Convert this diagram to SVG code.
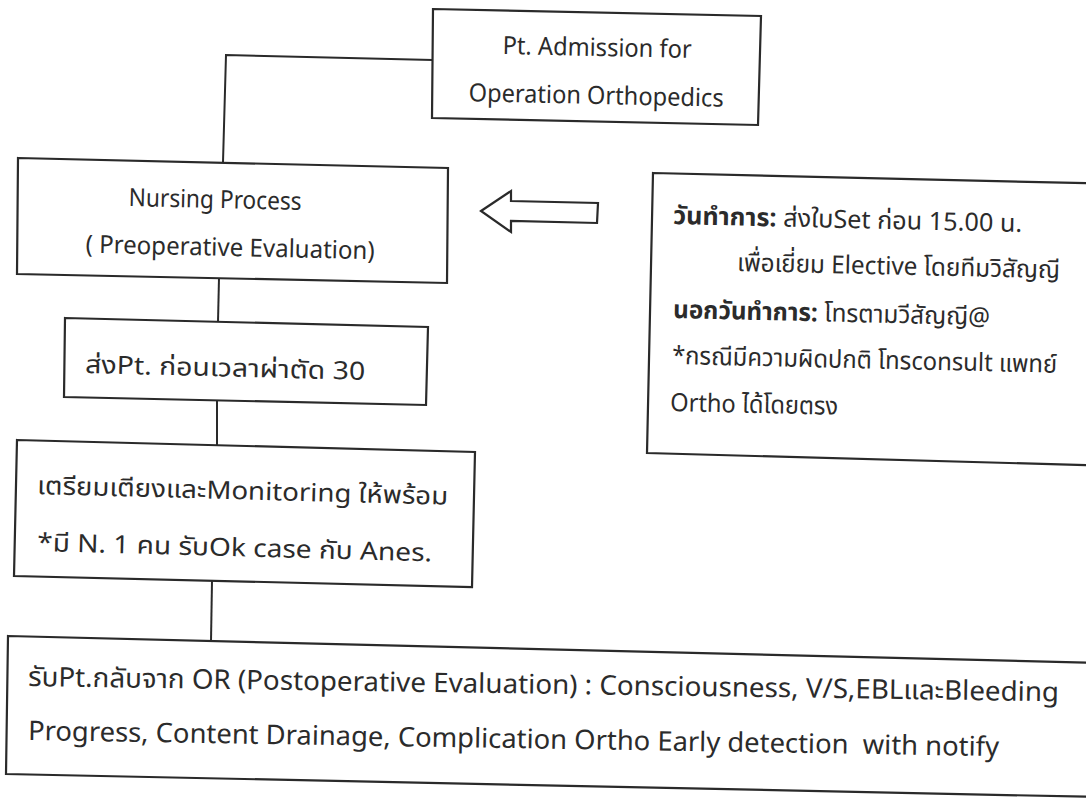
<svg xmlns="http://www.w3.org/2000/svg" width="1086" height="798" viewBox="0 0 1086 798">
<style>
.box{fill:#fff;stroke:#2a2a2a;stroke-width:2.2;stroke-linejoin:miter}
.con{fill:none;stroke:#2a2a2a;stroke-width:2}
.t{font-family:"Noto Sans","Noto Sans Thai","DejaVu Sans",sans-serif;font-size:25px;fill:#2b2b2b}
.tb{font-size:27px}
.m{text-anchor:middle}
.b{font-weight:bold}
</style>
<rect width="1086" height="798" fill="#fff"/>
<g id="connectors">
<path class="con" d="M433,60 L226,55 L223,162"/>
<path class="con" d="M219,278 L218,322"/>
<path class="con" d="M217,400 L217,445"/>
<path class="con" d="M212,581 L211,641"/>
<polygon id="arrow" class="box" points="481,211 511,191 511,201 598,203 597,223 511,221 511,232"/>
</g>
<g id="admission">
<polygon class="box" points="433,9 761,16 758,125 432,118"/>
<text class="t m" x="597" y="56" textLength="189" lengthAdjust="spacingAndGlyphs" transform="rotate(1.2 597 56)">Pt. Admission for</text>
<text class="t m" x="596" y="104" textLength="255" lengthAdjust="spacingAndGlyphs" transform="rotate(1.2 596 104)">Operation Orthopedics</text>
</g>
<g id="nursing">
<polygon class="box" points="18,158 448,168 447,283 17,274"/>
<text class="t m" x="215" y="208" textLength="173" lengthAdjust="spacingAndGlyphs" transform="rotate(1.3 215 208)">Nursing Process</text>
<text class="t m" x="230" y="256" textLength="289" lengthAdjust="spacingAndGlyphs" transform="rotate(1.3 230 256)">( Preoperative Evaluation)</text>
</g>
<g id="send">
<polygon class="box" points="65,318 428,327 426,405 64,397"/>
<text class="t" x="85" y="373" textLength="280" lengthAdjust="spacingAndGlyphs" transform="rotate(1.4 85 373)">ส่งPt. ก่อนเวลาผ่าตัด 30</text>
</g>
<g id="prepare">
<polygon class="box" points="17,440 475,452 472,587 14,576"/>
<text class="t" x="37" y="494" textLength="411" lengthAdjust="spacingAndGlyphs" transform="rotate(1.5 37 494)">เตรียมเตียงและMonitoring ให้พร้อม</text>
<text class="t" x="37" y="551" textLength="395" lengthAdjust="spacingAndGlyphs" transform="rotate(1.5 37 551)">*มี N. 1 คน รับOk case กับ Anes.</text>
</g>
<g id="note">
<polygon class="box" points="653,173 1100,183.5 1100,465.5 647,453"/>
<text class="t" x="673" y="224" textLength="349" lengthAdjust="spacingAndGlyphs" transform="rotate(1.3 673 224)"><tspan class="b">วันทำการ:</tspan> ส่งใบSet ก่อน 15.00 น.</text>
<text class="t" x="737" y="271" textLength="323" lengthAdjust="spacingAndGlyphs" transform="rotate(1.3 737 271)">เพื่อเยี่ยม Elective โดยทีมวิสัญญี</text>
<text class="t" x="673" y="318" textLength="317" lengthAdjust="spacingAndGlyphs" transform="rotate(1.3 673 318)"><tspan class="b">นอกวันทำการ:</tspan> โทรตามวีสัญญี@</text>
<text class="t" x="672" y="364" textLength="385" lengthAdjust="spacingAndGlyphs" transform="rotate(1.3 672 364)">*กรณีมีความผิดปกติ โทรconsult แพทย์</text>
<text class="t" x="670" y="411" textLength="168" lengthAdjust="spacingAndGlyphs" transform="rotate(1.3 670 411)">Ortho ได้โดยตรง</text>
</g>
<g id="postop">
<polygon class="box" points="8,636 1100,663 1100,797 6,774"/>
<text class="t tb" x="28" y="686" textLength="1031" lengthAdjust="spacingAndGlyphs" transform="rotate(0.85 28 686)">รับPt.กลับจาก OR (Postoperative Evaluation) : Consciousness, V/S,EBLและBleeding</text>
<text class="t tb" x="28" y="740" textLength="971" lengthAdjust="spacingAndGlyphs" transform="rotate(0.95 28 740)" xml:space="preserve">Progress, Content Drainage, Complication Ortho Early detection  with notify</text>
</g>
</svg>
